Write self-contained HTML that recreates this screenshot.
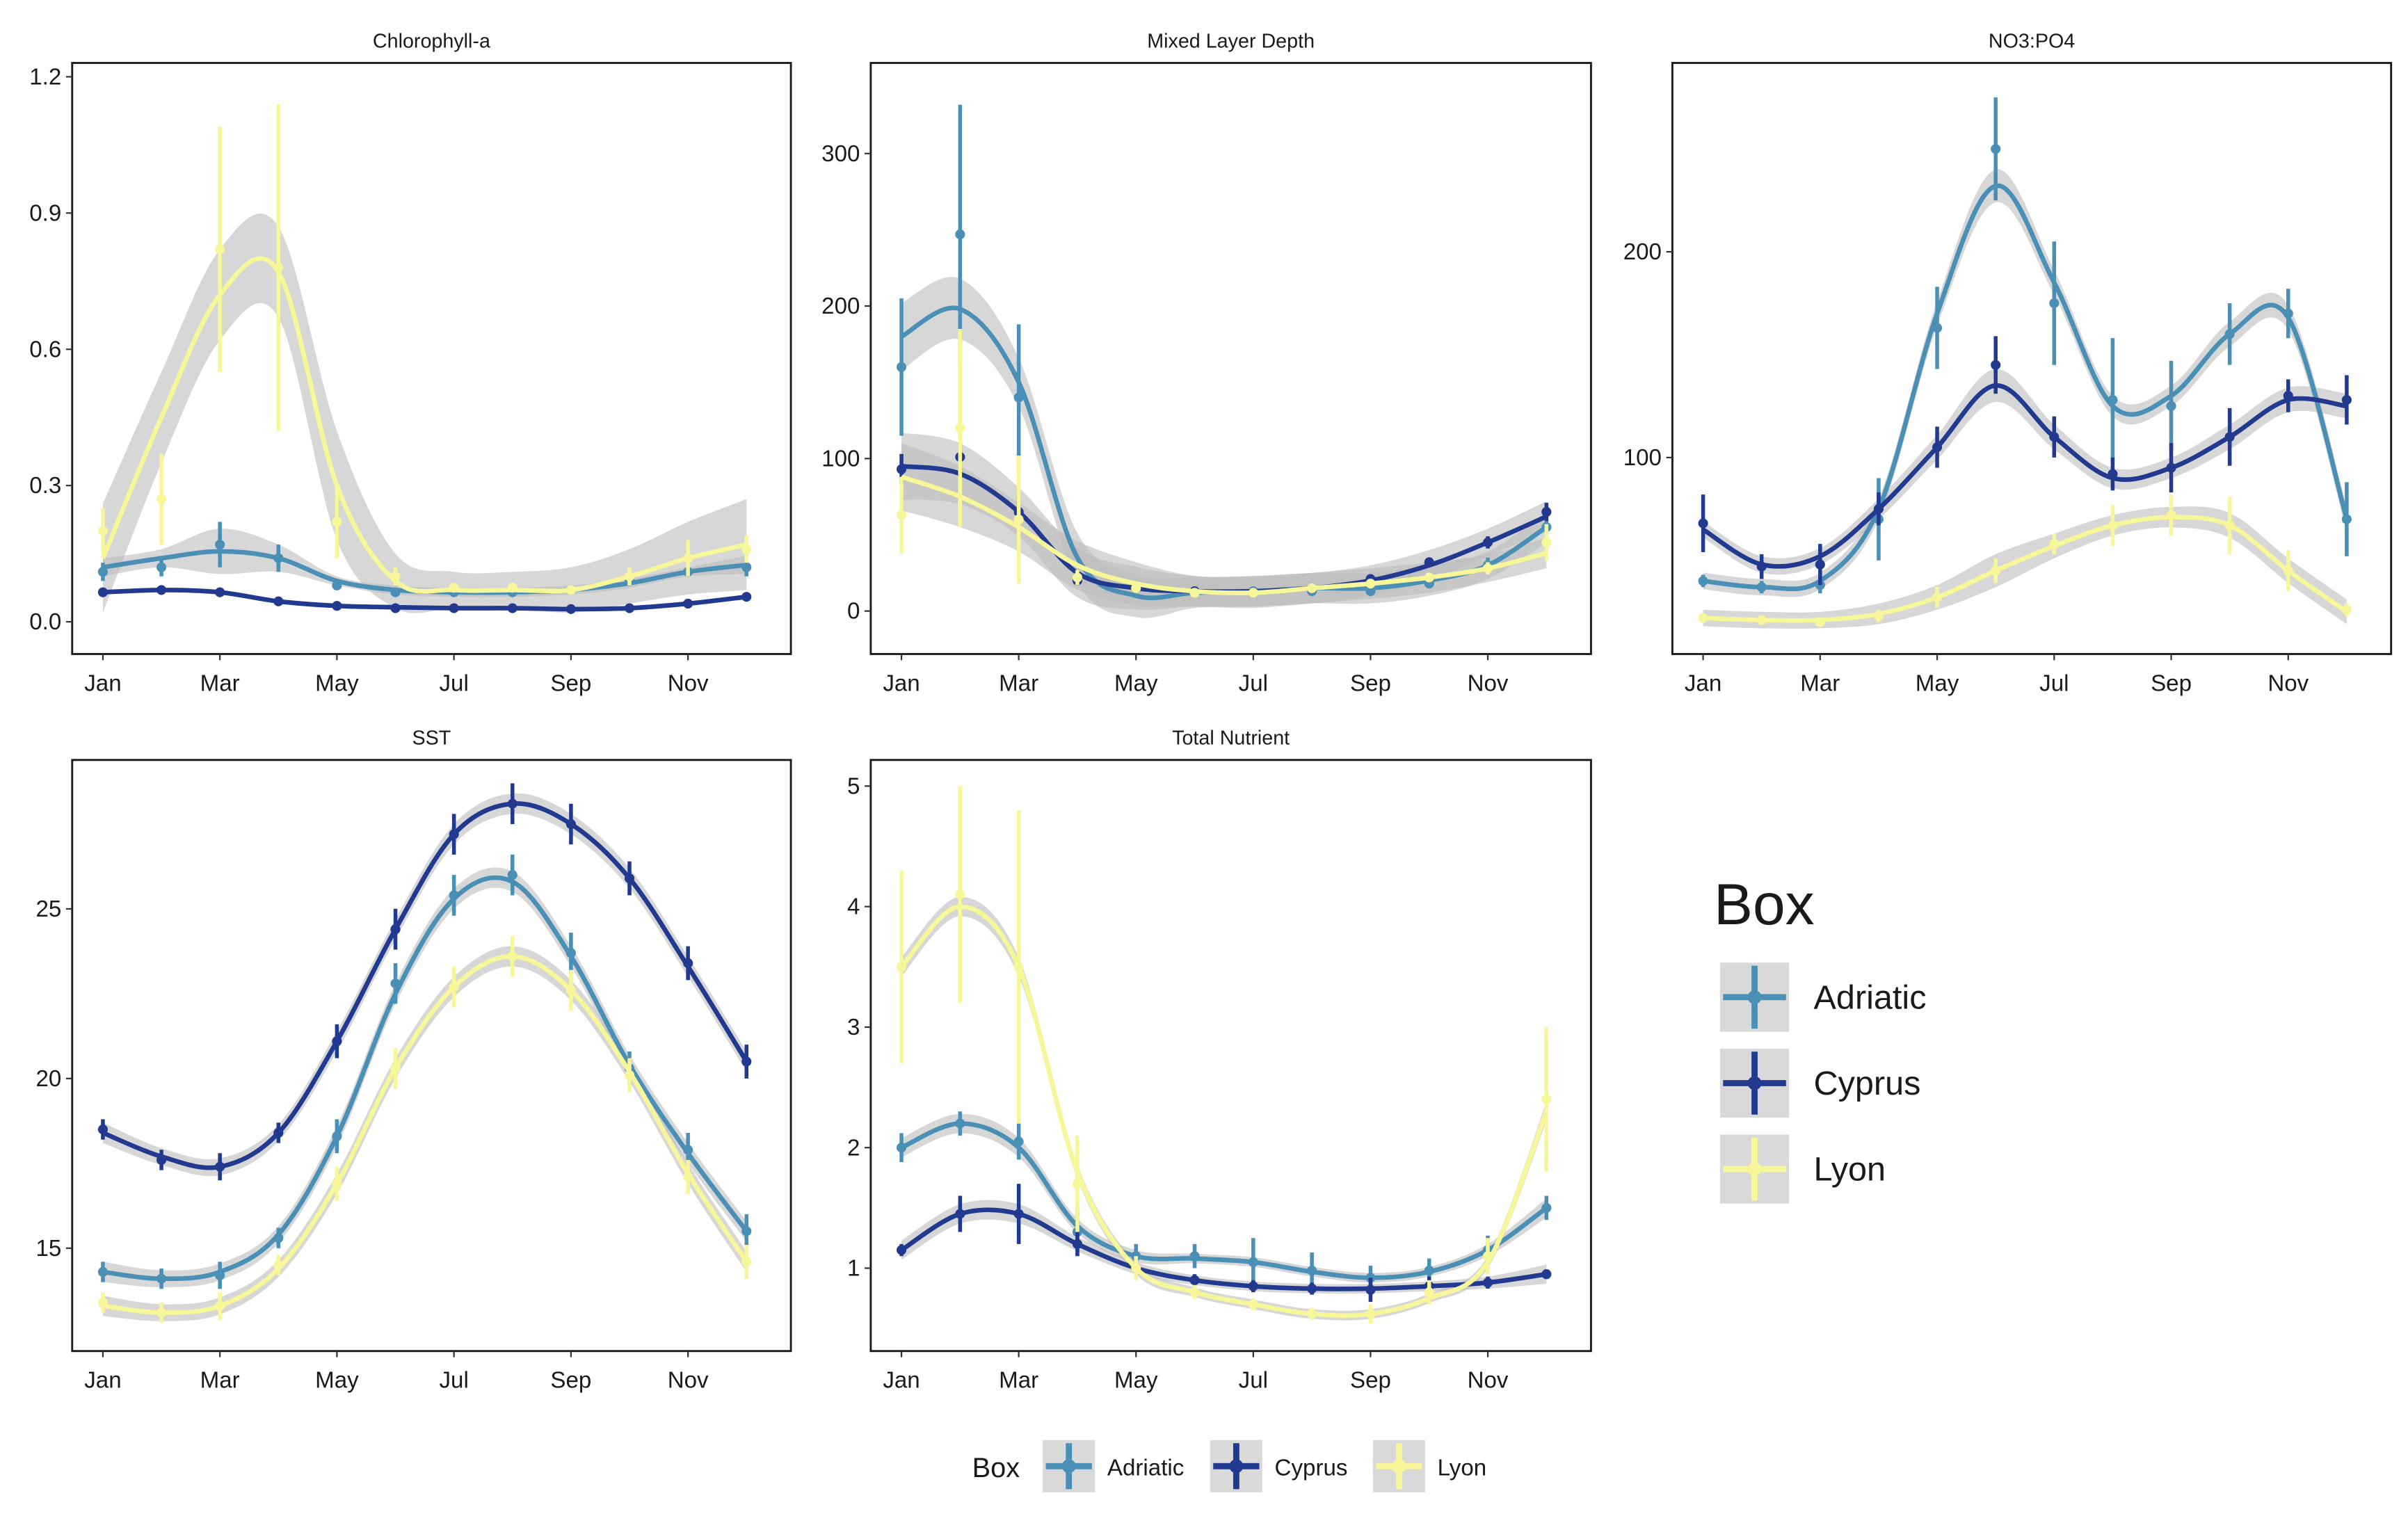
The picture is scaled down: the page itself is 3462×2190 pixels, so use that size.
<!DOCTYPE html>
<html><head><meta charset="utf-8"><style>
html,body{margin:0;padding:0;background:#fff}
svg{display:block;font-family:"Liberation Sans",sans-serif}
</style></head><body>
<svg id="chart" width="3462" height="2190" viewBox="0 0 1568 992" preserveAspectRatio="none" xmlns="http://www.w3.org/2000/svg"></svg>
<script>
const months = ["Jan","Feb","Mar","Apr","May","Jun","Jul","Aug","Sep","Oct","Nov","Dec"];
const monthTicks = ["Jan","Mar","May","Jul","Sep","Nov"];
const seriesNames = ["Adriatic","Cyprus","Lyon"];

// Chlorophyll-a
const chlTicks = [0.0,0.3,0.6,0.9,1.2];
const chlAdrPts = [0.11,0.12,0.17,0.14,0.08,0.065,0.065,0.065,0.07,0.09,0.11,0.12];
const chlAdrSm  = [0.12,0.14,0.155,0.14,0.09,0.07,0.065,0.065,0.07,0.085,0.11,0.125];
const chlAdrErr = [0.02,0.02,0.05,0.03,0.01,0.01,0.01,0.01,0.01,0.01,0.01,0.02];
const chlCypPts = [0.065,0.07,0.065,0.045,0.035,0.03,0.03,0.03,0.028,0.03,0.04,0.055];
const chlCypSm  = [0.065,0.07,0.065,0.045,0.035,0.032,0.03,0.03,0.028,0.03,0.04,0.055];
const chlCypErr = [0.005,0.005,0.005,0.005,0.005,0.005,0.005,0.005,0.005,0.005,0.005,0.005];
const chlLyoPts = [0.2,0.27,0.82,0.78,0.22,0.1,0.075,0.075,0.07,0.1,0.14,0.16];
const chlLyoSm  = [0.14,0.45,0.72,0.77,0.3,0.09,0.07,0.07,0.07,0.1,0.14,0.17];
const chlLyoErr = [0.05,0.1,0.27,0.36,0.08,0.02,0.01,0.01,0.01,0.02,0.04,0.03];
const chlLyoRib = [0.12,0.1,0.1,0.1,0.12,0.06,0.04,0.04,0.05,0.06,0.08,0.1];

// Mixed Layer Depth
const mldTicks = [0,100,200,300];
const mldAdrPts = [160,247,140,22,15,13,13,13,13,18,30,55];
const mldAdrSm  = [180,198,150,35,10,12,13,15,15,20,30,55];
const mldAdrErr = [45,85,48,5,3,2,2,2,2,3,5,15];
const mldCypPts = [93,101,65,20,15,13,12,15,21,32,45,65];
const mldCypSm  = [95,90,65,25,15,13,13,15,20,30,45,62];
const mldCypErr = [10,10,10,3,2,2,2,2,3,3,4,6];
const mldLyoPts = [63,120,60,22,15,12,12,15,18,22,28,45];
const mldLyoSm  = [88,75,55,30,18,13,12,15,18,22,28,38];
const mldLyoErr = [25,65,42,5,3,2,2,2,3,3,4,12];
const mldRib = [22,20,16,16,14,10,10,10,10,10,9,10];

// NO3:PO4
const npTicks = [100,200];
const npAdrPts = [40,37,38,70,163,250,175,128,125,160,170,70];
const npAdrSm  = [40,37,40,75,170,232,185,125,130,160,168,70];
const npAdrErr = [3,3,4,20,20,25,30,30,22,15,12,18];
const npCypPts = [68,47,48,75,105,145,110,92,95,110,130,128];
const npCypSm  = [65,48,52,75,105,135,110,90,95,110,128,125];
const npCypErr = [14,6,10,8,10,14,10,8,12,14,8,12];
const npLyoPts = [22,21,20,23,32,45,58,67,72,67,45,26];
const npLyoSm  = [22,21,21,24,32,45,57,67,71,67,45,25];
const npLyoErr = [2,2,2,3,5,6,5,10,10,14,10,3];
const npRib = [4,4,4,5,6,8,6,5,5,6,6,6];

// SST
const sstTicks = [15,20,25];
const sstAdrPts = [14.3,14.1,14.2,15.3,18.3,22.8,25.4,26.0,23.7,20.3,17.9,15.5];
const sstAdrSm  = [14.3,14.1,14.3,15.4,18.3,22.5,25.3,25.8,23.6,20.4,17.8,15.5];
const sstCypPts = [18.5,17.6,17.4,18.4,21.1,24.4,27.2,28.1,27.5,25.9,23.4,20.5];
const sstCypSm  = [18.4,17.7,17.4,18.4,21.1,24.4,27.2,28.1,27.5,25.9,23.3,20.5];
const sstLyoPts = [13.4,13.1,13.3,14.5,16.9,20.3,22.7,23.6,22.6,20.1,17.1,14.6];
const sstLyoSm  = [13.3,13.1,13.3,14.4,16.9,20.3,22.7,23.6,22.6,20.2,17.2,14.6];
const sstErr = [0.3,0.3,0.4,0.3,0.5,0.6,0.6,0.6,0.6,0.5,0.5,0.5];
const sstRib = [0.3,0.25,0.25,0.25,0.3,0.3,0.3,0.3,0.3,0.3,0.3,0.3];

// Total Nutrient
const tnTicks = [1,2,3,4,5];
const tnAdrPts = [2.0,2.2,2.05,1.3,1.1,1.1,1.05,0.98,0.92,0.98,1.15,1.5];
const tnAdrSm  = [2.0,2.2,2.0,1.35,1.1,1.08,1.05,0.97,0.92,0.97,1.15,1.5];
const tnAdrErr = [0.12,0.1,0.15,0.2,0.1,0.1,0.2,0.15,0.1,0.1,0.12,0.1];
const tnCypPts = [1.15,1.45,1.45,1.2,1.0,0.9,0.85,0.83,0.82,0.85,0.88,0.95];
const tnCypSm  = [1.15,1.45,1.45,1.2,1.0,0.9,0.85,0.83,0.83,0.85,0.88,0.95];
const tnCypErr = [0.05,0.15,0.25,0.1,0.06,0.05,0.05,0.05,0.1,0.08,0.05,0.04];
const tnLyoPts = [3.5,4.1,3.5,1.7,1.0,0.8,0.7,0.62,0.62,0.8,1.1,2.4];
const tnLyoSm  = [3.5,4.0,3.5,1.8,1.0,0.8,0.7,0.62,0.62,0.75,1.05,2.3];
const tnLyoErr = [0.8,0.9,1.3,0.4,0.1,0.06,0.05,0.05,0.08,0.1,0.15,0.6];
const tnRib = [0.08,0.08,0.08,0.06,0.05,0.04,0.04,0.04,0.04,0.04,0.05,0.08];

const COLORS = {Adriatic:"#4a8fb5", Cyprus:"#213a8f", Lyon:"#f7f79a"};
const NS = "http://www.w3.org/2000/svg";
const svg = document.getElementById("chart");
function mk(tag, attrs, parent){ const e=document.createElementNS(NS,tag); for(const k in attrs) e.setAttribute(k,attrs[k]); (parent||svg).appendChild(e); return e; }

function spline(pts){
  let d="M"+pts[0][0]+","+pts[0][1];
  for(let i=0;i<pts.length-1;i++){
    const p0=pts[Math.max(0,i-1)],p1=pts[i],p2=pts[i+1],p3=pts[Math.min(pts.length-1,i+2)];
    const c1x=p1[0]+(p2[0]-p0[0])/6,c1y=p1[1]+(p2[1]-p0[1])/6;
    const c2x=p2[0]-(p3[0]-p1[0])/6,c2y=p2[1]-(p3[1]-p1[1])/6;
    d+=" C"+c1x+","+c1y+" "+c2x+","+c2y+" "+p2[0]+","+p2[1];
  }
  return d;
}

const panels = [
 {key:"chl", title:"Chlorophyll-a", x0:47,y0:41,x1:515,y1:426, v0:0,p0:405,v1:1.2,p1:50, ticks:chlTicks, fmt:v=>v.toFixed(1),
  series:[["Adriatic",chlAdrPts,chlAdrSm,chlAdrErr,chlAdrErr],["Cyprus",chlCypPts,chlCypSm,chlCypErr,chlCypErr],["Lyon",chlLyoPts,chlLyoSm,chlLyoErr,chlLyoRib]]},
 {key:"mld", title:"Mixed Layer Depth", x0:567,y0:41,x1:1036,y1:426, v0:0,p0:398,v1:300,p1:100, ticks:mldTicks, fmt:v=>String(v),
  series:[["Adriatic",mldAdrPts,mldAdrSm,mldAdrErr,mldRib],["Cyprus",mldCypPts,mldCypSm,mldCypErr,mldRib],["Lyon",mldLyoPts,mldLyoSm,mldLyoErr,mldRib]]},
 {key:"np", title:"NO3:PO4", x0:1089,y0:41,x1:1557,y1:426, v0:100,p0:298,v1:200,p1:164, ticks:npTicks, fmt:v=>String(v),
  series:[["Adriatic",npAdrPts,npAdrSm,npAdrErr,npRib],["Cyprus",npCypPts,npCypSm,npCypErr,npRib],["Lyon",npLyoPts,npLyoSm,npLyoErr,npRib]]},
 {key:"sst", title:"SST", x0:47,y0:495,x1:515,y1:880, v0:15,p0:813,v1:25,p1:592, ticks:sstTicks, fmt:v=>String(v),
  series:[["Adriatic",sstAdrPts,sstAdrSm,sstErr,sstRib],["Cyprus",sstCypPts,sstCypSm,sstErr,sstRib],["Lyon",sstLyoPts,sstLyoSm,sstErr,sstRib]]},
 {key:"tn", title:"Total Nutrient", x0:567,y0:495,x1:1036,y1:880, v0:1,p0:826,v1:5,p1:512, ticks:tnTicks, fmt:v=>String(v),
  series:[["Adriatic",tnAdrPts,tnAdrSm,tnAdrErr,tnRib],["Cyprus",tnCypPts,tnCypSm,tnCypErr,tnRib],["Lyon",tnLyoPts,tnLyoSm,tnLyoErr,tnRib]]}
];

panels.forEach(P=>{
  const g=mk("g",{});
  
  
  const step=38.1*(P.x1-P.x0)/468;
  const X=m=>P.x0+20+m*step;
  const Y=v=>P.p0+(v-P.v0)*(P.p1-P.p0)/(P.v1-P.v0);
  const t=mk("text",{x:(P.x0+P.x1)/2,y:P.y0-10,"text-anchor":"middle","font-size":"13",fill:"#1a1a1a"},g);
  t.textContent=P.title;
  
  
  const clipId="clip-"+P.key;
  const cp=mk("clipPath",{id:clipId},g); mk("rect",{x:P.x0,y:P.y0,width:P.x1-P.x0,height:P.y1-P.y0},cp);
  const plot=mk("g",{"clip-path":"url(#"+clipId+")"},g);
  P.series.forEach(([name,pts,sm,err,rib])=>{
    const up=sm.map((v,i)=>[X(i),Y(v+rib[i])]), lo=sm.map((v,i)=>[X(i),Y(v-rib[i])]).reverse();
    const d=spline(up)+" L"+spline(lo).slice(1)+" Z";
    const r=mk("path",{d:d,fill:"#bdbdbd","fill-opacity":"0.6",stroke:"none"},plot);
    
    
  });
  P.series.forEach(([name,pts,sm,err,rib])=>{
    const c=COLORS[name];
    const ln=mk("path",{d:spline(sm.map((v,i)=>[X(i),Y(v)])),fill:"none",stroke:c,"stroke-width":"3"},plot);
    
    
    pts.forEach((v,i)=>{
      const eb=mk("line",{x1:X(i),x2:X(i),y1:Y(v-err[i]),y2:Y(v+err[i]),stroke:c,"stroke-width":"2.5"},plot);
      
      
      const pt=mk("circle",{cx:X(i),cy:Y(v),r:"3.2",fill:c},plot);
      
      
    });
  });
  const fr=mk("rect",{x:P.x0,y:P.y0,width:P.x1-P.x0,height:P.y1-P.y0,fill:"none",stroke:"#1a1a1a","stroke-width":"1.3"},g);
  
  
  P.ticks.forEach(v=>{
    const y=Y(v);
    mk("line",{x1:P.x0-4,x2:P.x0,y1:y,y2:y,stroke:"#333","stroke-width":"1"},g);
    const tl=mk("text",{x:P.x0-7,y:y+5,"text-anchor":"end","font-size":"15",fill:"#1a1a1a"},g);
    tl.textContent=P.fmt(v);
    
    
  });
  monthTicks.forEach(mn=>{
    const x=X(months.indexOf(mn));
    mk("line",{x1:x,x2:x,y1:P.y1,y2:P.y1+4,stroke:"#333","stroke-width":"1"},g);
    const tl=mk("text",{x:x,y:P.y1+24,"text-anchor":"middle","font-size":"15",fill:"#1a1a1a"},g);
    tl.textContent=mn;
    
    
  });
});

function key(x,y,s,name,parent){
  mk("rect",{x:x,y:y,width:s,height:s,fill:"#d9d9d9"},parent);
  const c=COLORS[name], lw=s>30?4:3;
  mk("line",{x1:x+s/2,x2:x+s/2,y1:y+2,y2:y+s-2,stroke:c,"stroke-width":lw},parent);
  mk("line",{x1:x+2,x2:x+s-2,y1:y+s/2,y2:y+s/2,stroke:c,"stroke-width":lw},parent);
  mk("circle",{cx:x+s/2,cy:y+s/2,r:s>30?4.5:3,fill:c},parent);
}
const lg=mk("g",{});


const lt=mk("text",{x:1116,y:602,"font-size":"38",fill:"#1a1a1a"},lg); lt.textContent="Box";
seriesNames.forEach((n,i)=>{
  const eg=mk("g",{},lg);
  
  
  key(1120,627+i*56,45,n,eg);
  const t=mk("text",{x:1181,y:657+i*56,"font-size":"22",fill:"#1a1a1a"},eg); t.textContent=n;
});
const bg=mk("g",{});


const bt=mk("text",{x:633,y:962,"font-size":"18",fill:"#1a1a1a"},bg); bt.textContent="Box";
const bx=[679,788,894];
seriesNames.forEach((n,i)=>{
  const eg=mk("g",{},bg);
  
  
  key(bx[i],938,34,n,eg);
  const t=mk("text",{x:bx[i]+42,y:961,"font-size":"15",fill:"#1a1a1a"},eg); t.textContent=n;
});
</script>
</body></html>
